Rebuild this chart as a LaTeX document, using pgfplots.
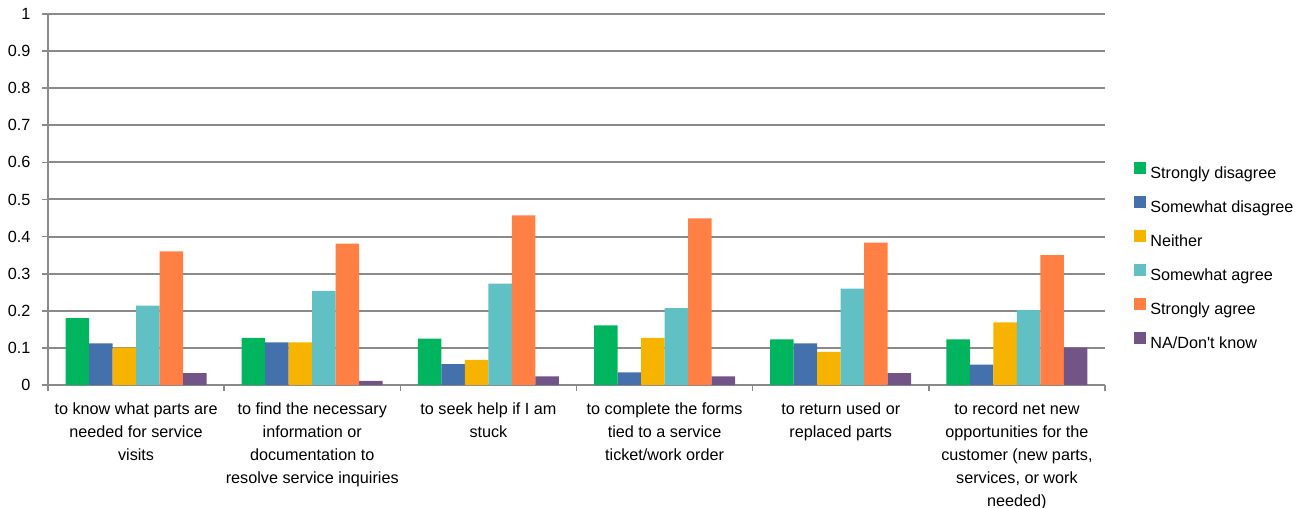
\documentclass[border=0pt]{standalone}
\usepackage{fontspec}
\setmainfont{Liberation Sans}
\usepackage{pgfplots}
\pgfplotsset{compat=1.18}
\usepackage{pgfplotstable}

\definecolor{cGreen}{HTML}{00B55E}
\definecolor{cBlue}{HTML}{4470AB}
\definecolor{cYellow}{HTML}{F6B300}
\definecolor{cTeal}{HTML}{61C0C4}
\definecolor{cOrange}{HTML}{FF7F45}
\definecolor{cPurple}{HTML}{725486}
\definecolor{gridgray}{HTML}{8A8A8A}

% share of responses per statement (x = statement index)
\pgfplotstableread{
x  sd     swd    nei    swa    sa     na
0  0.180  0.112  0.101  0.214  0.360  0.032
1  0.127  0.115  0.115  0.254  0.381  0.011
2  0.125  0.056  0.068  0.273  0.457  0.023
3  0.161  0.034  0.127  0.207  0.449  0.023
4  0.123  0.112  0.089  0.260  0.384  0.032
5  0.123  0.055  0.169  0.202  0.350  0.101
}\datatable

\begin{document}
\begin{tikzpicture}
\begin{axis}[
  at={(0,0)}, anchor=south west,
  scale only axis,
  width=528.5bp, height=185.5bp,
  ybar=0pt, bar width=11.75bp,
  xmin=-0.5, xmax=5.5,
  ymin=0, ymax=1,
  axis x line=bottom, axis y line=left,
  axis line style={draw=gridgray, line width=1bp, -},
  ymajorgrids,
  grid style={draw=gridgray, line width=1bp},
  tick align=outside,
  major tick length=3bp, minor tick length=3bp,
  tick style={draw=gridgray, line width=0.8bp},
  ytick={0,0.1,0.2,0.3,0.4,0.5,0.6,0.7,0.8,0.9,1},
  yticklabels={0,0.1,0.2,0.3,0.4,0.5,0.6,0.7,0.8,0.9,1},
  yticklabel style={font=\fontsize{8.1bp}{10bp}\selectfont, xshift=-2.3bp},
  xtick={0,1,2,3,4,5},
  minor xtick={-0.5,0.5,1.5,2.5,3.5,4.5,5.5},
  major x tick style={draw=none},
  xticklabels={
    {to know what parts are\\needed for service\\visits},
    {to find the necessary\\information or\\documentation to\\resolve service inquiries},
    {to seek help if I am\\stuck},
    {to complete the forms\\tied to a service\\ticket/work order},
    {to return used or\\replaced parts},
    {to record net new\\opportunities for the\\customer (new parts,\\services, or work\\needed)}
  },
  xticklabel style={font=\fontsize{8.1bp}{11.5bp}\selectfont, align=center, yshift=-2.4bp},
  legend style={
    at={(1.0274,0.345)}, anchor=west,
    draw=none, fill=none, inner sep=0pt,
    font=\fontsize{8.1bp}{10bp}\selectfont,
    row sep=6.9bp, column sep=2bp,
    nodes={inner sep=0pt, text height=6bp, text depth=2bp},
  },
  legend cell align=left,
  legend image code/.code={\path[#1, draw=none] (0bp,0.1bp) rectangle (6bp,6.1bp);},
]
\addplot[fill=cGreen, draw=none]  table[x=x, y=sd]  {\datatable};
\addplot[fill=cBlue, draw=none]   table[x=x, y=swd] {\datatable};
\addplot[fill=cYellow, draw=none] table[x=x, y=nei] {\datatable};
\addplot[fill=cTeal, draw=none]   table[x=x, y=swa] {\datatable};
\addplot[fill=cOrange, draw=none] table[x=x, y=sa]  {\datatable};
\addplot[fill=cPurple, draw=none] table[x=x, y=na]  {\datatable};
\legend{Strongly disagree, Somewhat disagree, Neither, Somewhat agree, Strongly agree, NA/Don\textquotesingle t know}
\end{axis}
\pgfresetboundingbox
\path[use as bounding box] (-24bp,-61.5bp) rectangle (623.5bp,192.5bp);
\end{tikzpicture}
\end{document}
